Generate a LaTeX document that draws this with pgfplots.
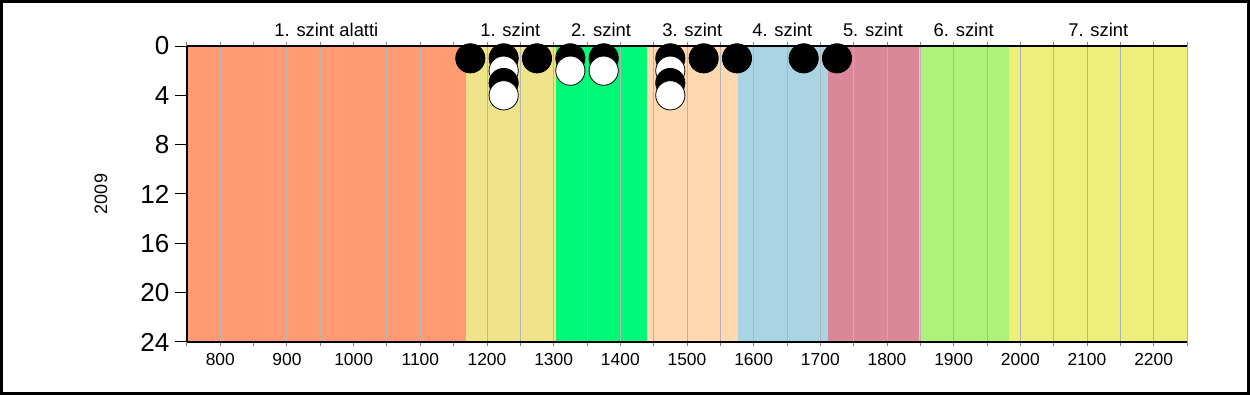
\documentclass[border=0pt]{standalone}
\usepackage{fontspec}
\setmainfont{Liberation Sans}
\usepackage{pgfplots}
\pgfplotsset{compat=1.18}
\definecolor{cA}{HTML}{FF9A72}
\definecolor{cB}{HTML}{F0E48A}
\definecolor{cC}{HTML}{00FA78}
\definecolor{cD}{HTML}{FFD8B0}
\definecolor{cE}{HTML}{A8D4E3}
\definecolor{cF}{HTML}{DA8799}
\definecolor{cG}{HTML}{ADF27A}
\definecolor{cH}{HTML}{EEEE7A}
\definecolor{gridgray}{HTML}{B4B4B4}
\begin{document}
\begin{tikzpicture}[x=1pt,y=1pt]
\useasboundingbox (0,0) rectangle (625,197.5);
\draw[line width=1.3pt] (0.65,0.65) rectangle (624.35,196.85);
\begin{axis}[
  at={(93.5pt,26.5pt)}, anchor=south west,
  width=500pt, height=148pt, scale only axis,
  xmin=750, xmax=2250, ymin=0, ymax=24, y dir=reverse,
  axis on top, clip mode=individual,
  axis x line=box, axis y line=left, axis line style={-, line width=0.6pt},
  xtick={800,900,...,2200}, minor xtick={750,850,...,2250},
  ytick={0,4,...,24},
  xmajorgrids, xminorgrids,
  major grid style={draw=gridgray, line width=0.5pt},
  minor grid style={draw=gridgray, line width=0.5pt},
  tick align=outside,
  major tick length=2pt, minor tick length=2pt,
  ytick style={draw=none},
  xtick style={line width=0.5pt},
  xticklabel style={font=\fontsize{8.7}{10}\selectfont},
  yticklabel style={font=\fontsize{13}{15}\selectfont, xshift=-3.3pt},
  /pgf/number format/assume math mode=true,
  /pgf/number format/1000 sep={},
  ylabel={2009},
  ylabel style={at={(axis description cs:-0.086,0.5)}, anchor=center, font=\fontsize{9}{10}\selectfont},
]
% level bands
\addplot[draw=none, fill=cA] coordinates {(750,0) (750,24) (1168,24) (1168,0)} -- cycle;
\addplot[draw=none, fill=cB] coordinates {(1168,0) (1168,24) (1303,24) (1303,0)} -- cycle;
\addplot[draw=none, fill=cC] coordinates {(1303,0) (1303,24) (1440,24) (1440,0)} -- cycle;
\addplot[draw=none, fill=cD] coordinates {(1440,0) (1440,24) (1576,24) (1576,0)} -- cycle;
\addplot[draw=none, fill=cE] coordinates {(1576,0) (1576,24) (1711,24) (1711,0)} -- cycle;
\addplot[draw=none, fill=cF] coordinates {(1711,0) (1711,24) (1848,24) (1848,0)} -- cycle;
\addplot[draw=none, fill=cG] coordinates {(1848,0) (1848,24) (1983,24) (1983,0)} -- cycle;
\addplot[draw=none, fill=cH] coordinates {(1983,0) (1983,24) (2250,24) (2250,0)} -- cycle;
% dots
\addplot[only marks, mark=*, mark size=7.3pt, mark options={fill=black, draw=black, line width=0.4pt}]
  coordinates {(1175,1) (1225,1) (1275,1) (1325,1) (1375,1) (1475,1) (1525,1) (1575,1) (1675,1) (1725,1)};
\addplot[only marks, mark=*, mark size=7.3pt, mark options={fill=white, draw=black, line width=0.4pt}]
  coordinates {(1225,2) (1325,2) (1375,2) (1475,2)};
\addplot[only marks, mark=*, mark size=7.3pt, mark options={fill=black, draw=black, line width=0.4pt}]
  coordinates {(1225,3) (1475,3)};
\addplot[only marks, mark=*, mark size=7.3pt, mark options={fill=white, draw=black, line width=0.4pt}]
  coordinates {(1225,4) (1475,4)};
% y tick marks (longer than the x ones)
\pgfplotsinvokeforeach{0,4,8,12,16,20,24}{
  \draw[line width=0.5pt] (axis cs:750,#1) -- ++(-6pt,0pt);
}
% level names
\begin{scope}[every node/.style={anchor=base, yshift=5pt, font=\fontsize{9.2}{10}\selectfont, inner sep=0pt}]
\node at (axis cs:959,0) {1. szint alatti};
\node at (axis cs:1235,0) {1. szint};
\node at (axis cs:1371,0) {2. szint};
\node at (axis cs:1508,0) {3. szint};
\node at (axis cs:1643,0) {4. szint};
\node at (axis cs:1779,0) {5. szint};
\node at (axis cs:1915,0) {6. szint};
\node at (axis cs:2117,0) {7. szint};
\end{scope}
\end{axis}
\end{tikzpicture}
\end{document}
